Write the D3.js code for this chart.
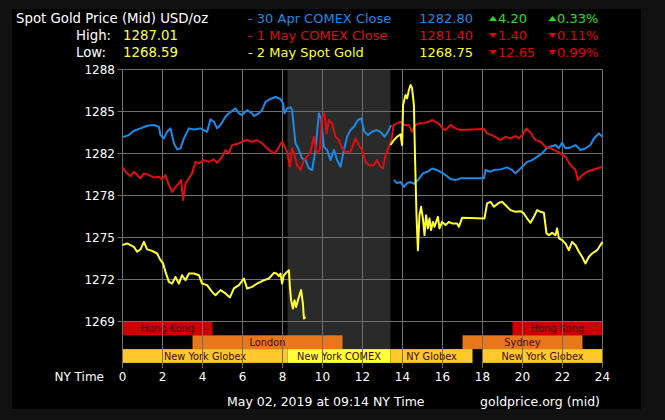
<!DOCTYPE html>
<html>
<head>
<meta charset="utf-8">
<script src="https://d3js.org/d3.v7.min.js"></script>
<style>
  body { margin: 0; background: #111; }
  svg { display: block; font-family: "DejaVu Sans", Verdana, sans-serif; }
</style>
</head>
<body>
<svg width="665" height="420"></svg>
<script>
// ---- data ----
// [hour, price] ; null price = gap in the line
var apr30Comex = [
  [0,1282.84],[0.32,1282.99],[0.57,1283.32],[0.9,1283.50],[1.23,1283.70],[1.57,1283.75],[1.82,1283.62],
  [1.9,1282.99],[2.07,1282.74],[2.23,1283.24],[2.4,1283.50],[2.57,1282.37],[2.73,1281.91],[2.9,1281.99],
  [3.07,1282.74],[3.32,1283.50],[3.57,1283.42],[3.9,1283.50],[4.23,1283.24],[4.4,1284.18],[4.57,1284.00],
  [4.73,1283.50],[4.9,1283.75],[5.15,1284.38],[5.32,1284.64],[5.65,1285.01],[5.82,1284.64],[5.98,1284.51],
  [6.23,1284.88],[6.48,1284.64],[6.57,1284.43],[6.82,1284.64],[6.98,1284.88],[7.15,1285.51],[7.4,1285.72],
  [7.65,1285.87],[7.9,1285.72],[8.03,1285.39],[8.1,1284.64],[8.23,1285.01],[8.4,1285.09],[8.48,1284.88],
  [8.65,1282.37],[8.82,1281.86],[8.98,1281.23],[9.15,1281.10],[9.32,1280.47],[9.48,1280.35],[9.65,1281.86],
  [9.82,1284.64],[9.93,1284.26],[10.07,1282.11],[10.23,1281.86],[10.4,1281.10],[10.57,1281.86],[10.73,1281.10],
  [10.9,1280.60],[11.07,1281.86],[11.23,1282.87],[11.4,1283.37],[11.57,1283.62],[11.77,1284.13],[11.93,1284.26],
  [12.1,1283.24],[12.27,1282.99],[12.48,1283.24],[12.7,1283.37],[12.9,1283.24],[13.1,1282.87],[13.27,1283.24],
  [13.43,1283.75],[13.5,null],
  [13.57,1279.59],[13.73,1279.36],[13.9,1279.44],[14.07,1279.08],[14.23,1279.36],[14.4,1279.44],[14.57,1279.32],
  [14.77,1279.59],[15.02,1280.10],[15.25,1280.22],[15.48,1280.47],[15.73,1280.35],[15.9,1280.22],[16.15,1279.97],
  [16.4,1279.67],[16.65,1279.59],[16.9,1279.72],[18.07,1279.72],[18.15,1280.35],[18.4,1280.22],[18.57,1280.35],
  [18.9,1280.40],[19.23,1280.55],[19.48,1280.35],[19.65,1280.10],[19.9,1280.47],[20.07,1280.72],[20.23,1280.97],
  [20.48,1281.10],[20.73,1281.35],[20.98,1281.61],[21.2,1281.99],[21.4,1282.11],[21.65,1282.24],[21.82,1281.99],
  [21.98,1282.41],[22.15,1281.99],[22.4,1282.06],[22.65,1282.24],[22.9,1281.86],[23.15,1281.99],[23.4,1282.24],
  [23.57,1282.74],[23.82,1283.12],[24,1282.87]
];

var may1Comex = [
  [0,1280.55],[0.23,1280.10],[0.4,1279.89],[0.57,1280.22],[0.73,1279.97],[0.9,1279.72],[1.07,1280.10],
  [1.32,1279.97],[1.57,1279.79],[1.82,1279.84],[1.98,1279.64],[2.15,1279.97],[2.32,1279.21],[2.48,1278.70],
  [2.65,1279.08],[2.82,1279.34],[2.93,1279.59],[3.03,1278.08],[3.15,1279.34],[3.32,1279.72],[3.48,1280.10],
  [3.65,1280.97],[3.82,1280.85],[4.07,1281.10],[4.32,1280.97],[4.57,1281.16],[4.73,1280.90],[4.98,1281.35],
  [5.15,1281.86],[5.32,1281.61],[5.48,1282.24],[5.73,1282.31],[5.98,1282.49],[6.23,1282.62],[6.48,1282.49],
  [6.73,1282.62],[6.98,1282.37],[7.23,1281.99],[7.57,1281.61],[7.73,1281.86],[7.98,1282.49],[8.07,1282.24],
  [8.23,1281.73],[8.37,1280.60],[8.48,1281.99],[8.6,1281.48],[8.73,1280.72],[8.9,1280.35],[9.07,1281.10],
  [9.23,1281.35],[9.4,1281.73],[9.57,1282.87],[9.7,1281.61],[9.87,1281.86],[9.98,1284.38],[10.1,1284.64],
  [10.2,1283.12],[10.32,1284.13],[10.48,1283.88],[10.65,1282.87],[10.82,1282.62],[10.98,1281.99],[11.15,1281.73],
  [11.4,1281.73],[11.65,1282.74],[11.82,1282.24],[11.98,1281.86],[12.15,1280.97],[12.32,1280.72],[12.57,1280.72],
  [12.73,1281.10],[12.9,1280.60],[13.02,1280.47],[13.15,1281.48],[13.32,1282.11],[13.45,1282.61],[13.55,1283.75],
  [13.73,1283.88],[13.9,1284.00],[14.07,1283.75],[14.32,1283.75],[14.48,1283.24],[14.65,1283.75],[14.82,1283.88],
  [15.02,1283.88],[15.3,1284.00],[15.5,1284.13],[15.8,1283.88],[16.0,1283.52],[16.15,1283.37],[16.4,1283.75],
  [16.65,1283.50],[16.9,1283.37],[18.07,1283.45],[18.23,1283.12],[18.57,1282.92],[18.9,1282.61],[19.15,1282.87],
  [19.4,1282.74],[19.65,1282.92],[19.82,1282.74],[19.98,1282.99],[20.2,1283.50],[20.4,1283.17],[20.65,1282.61],
  [20.9,1282.49],[21.15,1282.11],[21.4,1281.99],[21.65,1281.81],[21.9,1281.61],[22.15,1281.35],[22.4,1280.72],
  [22.65,1280.35],[22.77,1279.59],[22.98,1279.97],[23.23,1280.22],[23.48,1280.35],[23.73,1280.47],[24,1280.60]
];

var may2Spot = [
  [0,1274.67],[0.23,1274.80],[0.4,1274.67],[0.57,1274.54],[0.73,1274.17],[0.9,1274.35],[1.07,1274.92],
  [1.23,1274.35],[1.48,1274.24],[1.73,1274.04],[1.9,1273.54],[2.03,1273.29],[2.15,1272.65],[2.32,1271.90],
  [2.48,1271.77],[2.65,1272.27],[2.82,1271.77],[2.98,1272.40],[3.15,1272.02],[3.32,1272.53],[3.57,1272.53],
  [3.82,1272.40],[3.98,1271.77],[4.23,1271.65],[4.48,1271.14],[4.65,1270.89],[4.9,1271.27],[5.15,1271.02],
  [5.37,1270.72],[5.57,1271.40],[5.82,1271.65],[6.07,1272.15],[6.23,1271.40],[6.48,1271.52],[6.73,1271.77],
  [7.07,1272.02],[7.32,1272.15],[7.57,1272.58],[7.7,1272.53],[7.82,1272.33],[7.9,1272.53],[7.98,1271.77],
  [8.07,1272.40],[8.15,1272.53],[8.23,1272.65],[8.32,1272.78],[8.37,1271.52],[8.43,1270.51],[8.52,1269.88],
  [8.6,1270.51],[8.68,1270.00],[8.77,1270.51],[8.85,1270.89],[8.93,1271.27],[9.02,1270.26],[9.07,1269.13],
  [9.15,1269.25],[9.2,null],
  [13.4,1282.24],[13.57,1282.61],[13.73,1282.87],[13.9,1283.05],[13.98,1282.24],[14.03,1285.26],[14.15,1286.02],
  [14.23,1285.77],[14.32,1286.40],[14.4,1286.78],[14.48,1286.53],[14.57,1285.26],[14.63,1281.10],[14.7,1276.94],
  [14.77,1274.29],[14.85,1276.94],[14.93,1277.57],[15.02,1276.69],[15.1,1275.43],[15.18,1276.94],[15.27,1275.94],
  [15.35,1276.69],[15.43,1275.81],[15.52,1276.43],[15.6,1276.06],[15.77,1276.81],[15.85,1275.94],[15.98,1276.43],
  [16.15,1276.19],[16.32,1276.43],[16.48,1276.31],[16.73,1276.31],[16.82,1276.06],[16.98,1276.74],[18.1,1276.69],
  [18.23,1277.83],[18.4,1277.95],[18.57,1277.57],[18.82,1277.87],[18.98,1277.95],[19.23,1277.57],[19.4,1277.32],
  [19.65,1277.19],[19.9,1277.24],[20.07,1277.07],[20.23,1276.69],[20.4,1276.36],[20.57,1276.81],[20.73,1277.32],
  [20.9,1277.19],[21.07,1277.12],[21.2,1275.56],[21.32,1275.43],[21.48,1275.60],[21.65,1275.43],[21.73,1275.94],
  [21.82,1275.18],[21.98,1275.05],[22.15,1274.80],[22.32,1274.29],[22.48,1274.92],[22.65,1274.67],[22.82,1274.17],
  [22.98,1273.79],[23.15,1273.29],[23.32,1273.79],[23.48,1274.04],[23.73,1274.29],[24,1274.92]
];

var yTickLabels = ["1269", "1272", "1275", "1278", "1282", "1285", "1288"];
var xTicks = [0, 2, 4, 6, 8, 10, 12, 14, 16, 18, 20, 22, 24];

// trading sessions: [row, start hour, end hour, label, kind]
var sessions = [
  [0, 0, 4.5, "Hong Kong", "hk"],
  [0, 19.5, 24, "Hong Kong", "hk"],
  [1, 3.5, 11, "London", "ldn"],
  [1, 17, 23, "Sydney", "ldn"],
  [2, 0, 8.25, "New York Globex", "globex"],
  [2, 8.25, 13.4, "New York COMEX", "comex"],
  [2, 13.4, 17.5, "NY Globex", "globex"],
  [2, 18, 24, "New York Globex", "globex"]
];
var comexHours = [8.25, 13.4];

var legendRows = [
  { name: "- 30 Apr COMEX Close", price: "1282.80", change: "4.20", pct: "0.33%", up: true },
  { name: "- 1 May COMEX Close", price: "1281.40", change: "1.40", pct: "0.11%", up: false },
  { name: "- 2 May Spot Gold", price: "1268.75", change: "12.65", pct: "0.99%", up: false }
];
var high = "1287.01", low = "1268.59";

// ---- drawing ----
var svg = d3.select("svg");
var seriesColor = ["#1c8ae8", "#dd0f0f", "#ffff33"];
var sessionColor = { hk: "#cc0000", ldn: "#e8761a", globex: "#ffc92e", comex: "#ffff3a" };

var x = d3.scaleLinear().domain([0, 24]).range([122.5, 602.5]);
var yMin = 1268.9, yMax = 1287.95;
var y = d3.scaleLinear().domain([yMin, yMax]).range([321.5, 69.5]);
var yTicks = yTickLabels.map(function (d, i) { return yMin + i * (yMax - yMin) / (yTickLabels.length - 1); });

var plotTop = 69.5, barTop = 321.5, rowH = 13.8, plotBottom = barTop + 3 * rowH;

// panel
svg.append("rect").attr("x", 12).attr("y", 9).attr("width", 629).attr("height", 400).attr("fill", "#000");

// COMEX shading
svg.append("rect")
  .attr("x", x(comexHours[0])).attr("y", plotTop)
  .attr("width", x(comexHours[1]) - x(comexHours[0]))
  .attr("height", plotBottom - plotTop)
  .attr("fill", "#2a2a2a");

// session bars
var bars = svg.append("g");
sessions.forEach(function (s) {
  bars.append("rect")
    .attr("x", x(s[1])).attr("y", barTop + s[0] * rowH)
    .attr("width", x(s[2]) - x(s[1])).attr("height", rowH)
    .attr("fill", sessionColor[s[4]]);
  bars.append("text")
    .attr("x", (x(s[1]) + x(s[2])) / 2).attr("y", barTop + s[0] * rowH + rowH / 2 + 3.5)
    .attr("text-anchor", "middle")
    .attr("font-size", 9.8)
    .attr("fill", "#420800")
    .text(s[3]);
});

// grid
var grid = svg.append("g").attr("stroke", "#6e6e6e").attr("stroke-width", 1);
yTicks.forEach(function (v) {
  grid.append("line").attr("x1", x(0) - 5).attr("x2", x(24)).attr("y1", Math.round(y(v) - 0.5) + 0.5).attr("y2", Math.round(y(v) - 0.5) + 0.5);
});
xTicks.forEach(function (h) {
  grid.append("line").attr("x1", x(h)).attr("x2", x(h)).attr("y1", plotTop).attr("y2", plotBottom + 5);
});

// axis labels
var yl = svg.append("g").attr("font-size", 12).attr("fill", "#fff").attr("text-anchor", "end");
yTicks.forEach(function (v, i) {
  yl.append("text").attr("x", 115).attr("y", y(v) + 4.5).text(yTickLabels[i]);
});
var xl = svg.append("g").attr("font-size", 12).attr("fill", "#fff").attr("text-anchor", "middle");
xTicks.forEach(function (h) {
  xl.append("text").attr("x", x(h)).attr("y", 381).text(h);
});
svg.append("text").attr("x", 104).attr("y", 381).attr("text-anchor", "end")
  .attr("font-size", 12).attr("fill", "#fff").text("NY Time");

// series
var line = d3.line()
  .defined(function (d) { return d[1] !== null; })
  .x(function (d) { return x(d[0]); })
  .y(function (d) { return y(d[1]); });

[apr30Comex, may1Comex, may2Spot].forEach(function (s, i) {
  svg.append("path")
    .datum(s)
    .attr("fill", "none")
    .attr("stroke", seriesColor[i])
    .attr("stroke-width", 2)
    .attr("stroke-linejoin", "round")
    .attr("d", line);
});

// header
var head = svg.append("g").attr("font-size", 13.3);
head.append("text").attr("x", 16).attr("y", 23).attr("fill", "#fff").text("Spot Gold Price (Mid) USD/oz");
head.append("text").attr("x", 76).attr("y", 40).attr("fill", "#fff").text("High:");
head.append("text").attr("x", 76).attr("y", 57).attr("fill", "#fff").text("Low:");
head.append("text").attr("x", 123).attr("y", 40).attr("fill", "#ffff44").text(high);
head.append("text").attr("x", 123).attr("y", 57).attr("fill", "#ffff44").text(low);

var upColor = "#22e022", downColor = "#e00000";
function tri(g, cx, cy, up, color) {
  var p = up ? [[cx - 4, cy + 2.5], [cx + 4, cy + 2.5], [cx, cy - 2.5]]
             : [[cx - 4, cy - 2.5], [cx + 4, cy - 2.5], [cx, cy + 2.5]];
  g.append("path").attr("d", "M" + p.join("L") + "Z").attr("fill", color);
}
legendRows.forEach(function (r, i) {
  var by = 23 + i * 17;
  var c = r.up ? upColor : downColor;
  head.append("text").attr("x", 248).attr("y", by).attr("font-size", 13).attr("fill", seriesColor[i]).text(r.name);
  head.append("text").attr("x", 473).attr("y", by).attr("font-size", 13).attr("text-anchor", "end").attr("fill", seriesColor[i]).text(r.price);
  tri(head, 493, by - 4.5, r.up, c);
  head.append("text").attr("x", 498).attr("y", by).attr("font-size", 13).attr("fill", c).text(r.change);
  tri(head, 552.5, by - 4.5, r.up, c);
  head.append("text").attr("x", 557).attr("y", by).attr("font-size", 13).attr("fill", c).text(r.pct);
});

// footer
var foot = svg.append("g").attr("font-size", 12.5).attr("fill", "#fff");
foot.append("text").attr("x", 227).attr("y", 406).text("May 02, 2019 at 09:14 NY Time");
foot.append("text").attr("x", 600).attr("y", 406).attr("text-anchor", "end").text("goldprice.org (mid)");
</script>
</body>
</html>
